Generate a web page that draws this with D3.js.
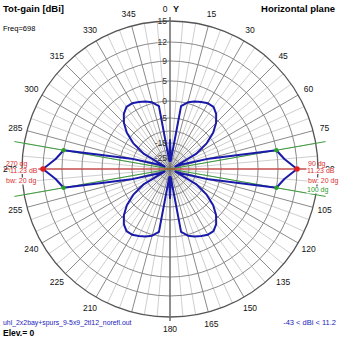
<!DOCTYPE html>
<html><head><meta charset="utf-8">
<script src="https://cdn.jsdelivr.net/npm/d3@7"></script>
<style>html,body{margin:0;padding:0;background:#fff;} svg{display:block;font-family:"Liberation Sans",Arial,sans-serif;}</style>
</head><body><svg id="c" width="339" height="339"></svg>
<script>
// ---- data ----
const azimuth = [0,5,10,15,20,25,30,35,40,45,50,55,60,65,70,75,80,85,
  90,95,100,105,110,115,120,125,130,135,140,145,150,155,160,165,170,175,
  180,185,190,195,200,205,210,215,220,225,230,235,240,245,250,255,260,265,
  270,275,280,285,290,295,300,305,310,315,320,325,330,335,340,345,350,355];
const gainDbi = [-14.5,-30.5,-2,-0.5,0.2,0.7,1.2,1.2,0.2,-1.6,-4.2,-8.2,-14.1,-33.6,-23.3,-10,8.23,9.3,
  11.23,9.3,8.23,-10,-23.3,-33.6,-14.1,-8.2,-4.2,-1.6,0.2,1.2,1.2,0.7,0.2,-0.5,-2,-30.5,
  -14.5,-30.5,-2,-0.5,0.2,0.7,1.2,1.2,0.2,-1.6,-4.2,-8.2,-14.1,-33.6,-23.3,-10,8.23,9.3,
  11.23,9.3,8.23,-10,-23.3,-33.6,-14.1,-8.2,-4.2,-1.6,0.2,1.2,1.2,0.7,0.2,-0.5,-2,-30.5];
const ringDbi = [14.23, 11.23, 8.23, 4.23, -0.77, -5.77, -10.77, -15.77, -20.77, -25.77];
const ringLabels = ["15","12","9","5","0","-5","","-15","","-25"];
const angleTicks = [0,15,30,45,60,75,90,105,120,135,150,165,180,195,210,225,240,255,270,285,300,315,330,345];
// 195 is hidden under the file name in the original plot
const angleTickLabels = ["0","15","30","45","60","75","90","105","120","135","150","165","180","","210","225","240","255","270","285","300","315","330","345"];
const minorTicks = [5,10,20,25,35,40,50,55,65,70,80,85,95,100,110,115,125,130,140,145,155,160,170,175,185,190,200,205,215,220,230,235,245,250,260,265,275,280,290,295,305,310,320,325,335,340,350,355];
const maxAz = [90, 270];
const maxGain = 11.23;
const halfPowerAz = [80, 100, 260, 280];
const halfPowerGain = 8.23;
const minGain = -43;
const fileName = "uhl_2x2bay+spurs_9-5x9_2tl12_norefl.out";

// ---- layout ----
const svg = d3.select("#c");
const cx = 170, cy = 169, R = 148;
const r = d3.scaleLinear()
  .domain([minGain].concat(ringDbi.slice().reverse()))
  .range([0, .074, .128, .176, .257, .345, .459, .595, .73, .858, 1].map(f => f * R))
  .clamp(true);
const g = svg.append("g").attr("transform", `translate(${cx},${cy})`);
const rad = a => (a - 90) * Math.PI / 180;
const px = (a, rr) => rr * Math.cos(rad(a));
const py = (a, rr) => rr * Math.sin(rad(a));

// minor spokes
g.selectAll(".ms").data(minorTicks).join("line")
  .attr("x1", 0).attr("y1", 0)
  .attr("x2", d => px(d, R)).attr("y2", d => py(d, R))
  .attr("stroke", "#cfcfcf").attr("stroke-width", 1);
// major spokes
g.selectAll(".Ms").data(angleTicks.filter(d => d % 180 !== 0)).join("line")
  .attr("x1", 0).attr("y1", 0)
  .attr("x2", d => px(d, R)).attr("y2", d => py(d, R))
  .attr("stroke", "#8a8a8a").attr("stroke-width", 1);
// rings
g.selectAll(".ring").data(ringDbi).join("circle")
  .attr("r", d => r(d)).attr("fill", "none")
  .attr("stroke", (d, i) => i === 0 ? "#555" : "#8a8a8a")
  .attr("stroke-width", (d, i) => i === 0 ? 1.3 : 1);
// vertical axis
g.append("line").attr("x1", 0).attr("x2", 0).attr("y1", -R - 4).attr("y2", R + 4)
  .attr("stroke", "#6a6a6a").attr("stroke-width", 1.5);

// green beamwidth lines
g.selectAll(".gl").data(halfPowerAz).join("line")
  .attr("x1", 0).attr("y1", 0)
  .attr("x2", d => px(d, 158)).attr("y2", d => py(d, 158))
  .attr("stroke", "#3c9c3c").attr("stroke-width", 1);
// red max line
g.append("line").attr("x1", px(270, 166)).attr("x2", px(90, 163)).attr("y1", 0).attr("y2", 0)
  .attr("stroke", "#e03030").attr("stroke-width", 1);

// pattern
const line = d3.lineRadial().angle(d => d[0] * Math.PI / 180).radius(d => r(d[1])).curve(d3.curveLinearClosed);
g.append("path").datum(azimuth.map((a, i) => [a, gainDbi[i]]))
  .attr("d", line).attr("fill", "none").attr("stroke", "#1a1aaa").attr("stroke-width", 2)
  .attr("stroke-linejoin", "round");

// points
g.selectAll(".gp").data(halfPowerAz).join("circle")
  .attr("cx", d => px(d, r(halfPowerGain))).attr("cy", d => py(d, r(halfPowerGain)))
  .attr("r", 2.2).attr("fill", "#2aa02a");
g.selectAll(".rp").data(maxAz).join("circle")
  .attr("cx", d => px(d, r(maxGain))).attr("cy", d => py(d, r(maxGain)))
  .attr("r", 2.8).attr("fill", "#e02020");

// ring labels
g.selectAll(".rl").data(ringDbi.map((d, i) => [d, ringLabels[i]]).filter(d => d[1] !== "")).join("text")
  .attr("x", -3).attr("y", d => -r(d[0])).attr("dy", "0.35em")
  .attr("text-anchor", "end").attr("font-size", 8.5).attr("fill", "#333")
  .text(d => d[1]);

// angle labels
const LR = 160;
g.selectAll(".al").data(angleTicks.map((d, i) => [d, angleTickLabels[i]]).filter(d => d[0] !== 0 && d[1] !== "")).join("text")
  .attr("x", d => px(d[0], LR)).attr("y", d => py(d[0], LR)).attr("dy", "0.35em")
  .attr("text-anchor", "middle").attr("font-size", 8.5).attr("fill", "#111")
  .text(d => d[1]);
g.append("text").attr("x", -5).attr("y", -LR).attr("dy", "0.35em").attr("text-anchor", "middle")
  .attr("font-size", 8.5).attr("fill", "#111").text(angleTickLabels[0]);
g.append("text").attr("x", 6).attr("y", -LR).attr("dy", "0.35em").attr("text-anchor", "middle")
  .attr("font-size", 9).attr("font-weight", "bold").attr("fill", "#111").text("Y");

// text with optional white background
function ann(x, y, txt, color, bg, size, anchor, weight) {
  const t = svg.append("text").attr("x", x).attr("y", y).attr("font-size", size || 7)
    .attr("fill", color).attr("text-anchor", anchor || "start")
    .attr("font-weight", weight || "normal").text(txt);
  if (bg) {
    const b = t.node().getBBox();
    svg.insert("rect", () => t.node()).attr("x", b.x - 0.5).attr("y", b.y + 1)
      .attr("width", b.width + 1).attr("height", b.height - 1).attr("fill", "#fff");
  }
  return t;
}
ann(6, 165.5, "270 dg", "#d83030");
ann(10, 173, maxGain.toFixed(2) + " dB", "#d83030", true);
ann(6, 182.5, "bw: 20 dg", "#d83030", true);
ann(308, 165.5, "90 dg", "#d83030");
ann(307, 173, maxGain.toFixed(2) + " dB", "#d83030", true);
ann(308, 182.5, "bw: 20 dg", "#d83030", true);
ann(307, 191.5, "100 dg", "#2a9a2a", true);

// header / footer texts
ann(3, 12, "Tot-gain [dBi]", "#000", false, 9.5, "start", "bold");
ann(3, 31, "Freq=698", "#000", false, 7.5);
ann(335, 12, "Horizontal plane", "#000", false, 9.5, "end", "bold");
ann(3, 325, fileName, "#2222bb", true, 6.9);
ann(3, 336, "Elev.= 0", "#000", false, 8.5, "start", "bold");
ann(336, 325, `${minGain} < dBi < 11.2`, "#2222bb", false, 7.5, "end");
</script></body></html>
